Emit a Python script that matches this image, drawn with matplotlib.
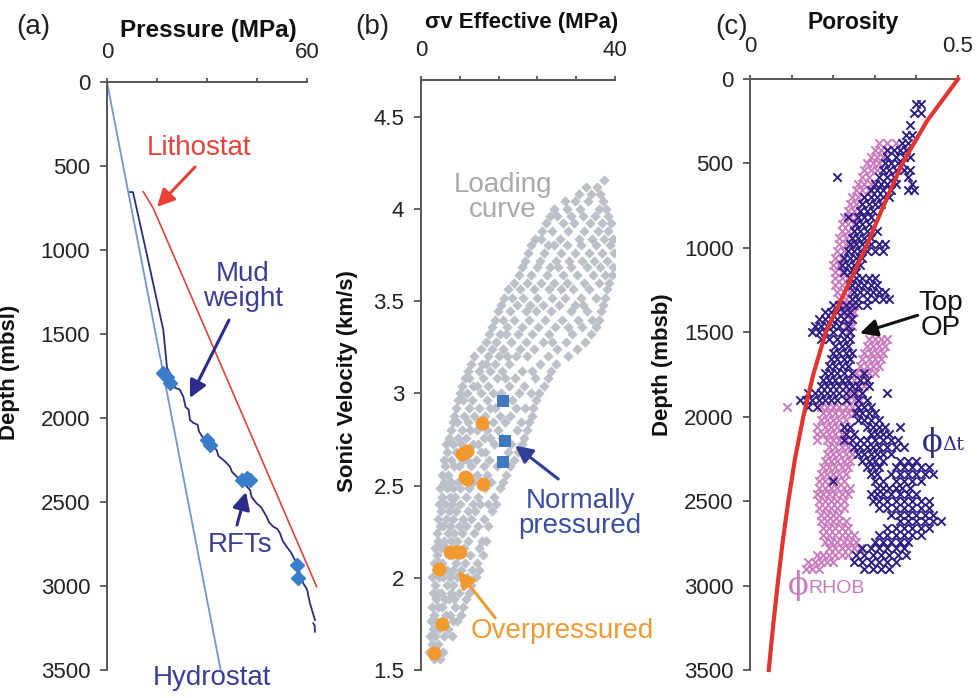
import matplotlib
matplotlib.use("Agg")
import matplotlib.pyplot as plt

plt.rcParams['font.family'] = ['Liberation Sans', 'DejaVu Sans']

# ---------------- Panel (a) data ----------------
hydro_p = [0.0, 34.1]
hydro_d = [0, 3500]
litho_p = [10.9, 13.9, 62.9]
litho_d = [653, 752, 3004]
mud_p = [6.9, 7.8, 12.0, 16.9, 18.0, 19.9, 20.4, 21.8, 22.9, 23.6, 24.5, 24.9, 26.0, 27.2, 27.6, 29.9,
         31.2, 32.9, 33.4, 34.9, 35.6, 36.9, 37.5, 38.9, 40.0, 40.9, 41.6, 42.9, 43.4, 44.9, 46.2,
         47.9, 48.6, 49.9, 51.1, 51.9, 52.7, 53.9, 55.2, 56.9, 57.8, 58.9, 60.0, 60.9, 62.4]
mud_d = [655, 655, 1030, 1476, 1700, 1774, 1820, 1830, 1873, 1935, 1950, 2012, 2030, 2040, 2080, 2150,
         2160, 2190, 2225, 2250, 2262, 2290, 2320, 2349, 2365, 2389, 2400, 2428, 2470, 2508, 2530,
         2587, 2620, 2647, 2660, 2686, 2730, 2766, 2800, 2865, 2920, 2984, 3020, 3103, 3202]
mud_tail_p = [61.9, 62.3, 62.4]
mud_tail_d = [3222, 3235, 3272]
rft_p = [16.9, 17.9, 18.9, 29.9, 30.9, 40.4, 41.9, 42.9, 56.9, 57.4]
rft_d = [1734, 1754, 1793, 2131, 2161, 2369, 2359, 2369, 2875, 2954]

# ---------------- Panel (b) data: rows of (velocity km/s, [sigma_v effective MPa ...]) ----------------
gray_rows = [
    (1.56, [2.6, 3.9]), (1.595, [1.6, 3.1, 4.5]), (1.64, [2.2, 3.5]), (1.685, [1.9, 2.9, 4.8, 6.3]),
    (1.72, [2.5, 3.7, 5.5]), (1.765, [2.0, 3.1, 4.4, 6.6, 7.4]), (1.80, [2.7, 5.1, 6.0, 8.3]),
    (1.84, [2.2, 3.6, 4.3, 7.1, 8.6]), (1.885, [3.0, 4.9, 5.8, 6.9, 9.3]), (1.92, [2.4, 3.5, 4.1, 6.2, 7.9, 9.9]),
    (1.96, [2.9, 5.3, 6.7, 8.8, 10.4]), (2.005, [2.3, 3.8, 4.6, 6.0, 7.5, 9.5, 11.3]),
    (2.04, [3.1, 5.4, 6.5, 8.3, 10.6, 12.0]), (2.08, [2.6, 3.7, 4.4, 7.2, 9.0, 11.5]),
    (2.125, [3.3, 5.8, 6.3, 7.9, 10.1, 12.8]), (2.16, [2.9, 4.2, 5.1, 6.9, 8.8, 11.9]),
    (2.20, [3.6, 4.8, 6.1, 7.5, 9.7, 12.5, 13.4]), (2.245, [3.2, 5.5, 6.8, 8.4, 10.9]),
    (2.28, [3.9, 4.6, 6.0, 7.8, 9.2, 11.8, 13.9]), (2.32, [3.5, 5.1, 6.7, 8.6, 10.3, 12.9]),
    (2.365, [4.1, 5.7, 7.3, 9.6, 11.1, 14.6]), (2.40, [3.7, 4.9, 6.4, 8.1, 10.7, 12.2, 13.8, 15.4]),
    (2.44, [4.4, 5.9, 7.0, 9.3, 11.8, 15.0]), (2.485, [4.0, 5.3, 6.6, 8.0, 9.9, 13.1, 16.2]),
    (2.52, [4.7, 6.2, 7.6, 10.8, 12.4, 14.5, 16.9]), (2.56, [4.3, 5.6, 8.7, 9.6, 11.6, 13.7, 17.6]),
    (2.605, [5.0, 6.8, 7.9, 10.3, 12.9, 15.6, 18.4]), (2.64, [4.7, 6.1, 8.6, 9.4, 11.3, 14.1, 16.8, 19.2]),
    (2.68, [5.4, 7.2, 9.9, 12.4, 13.2, 17.9, 20.1]), (2.725, [5.1, 6.5, 8.2, 10.7, 11.8, 15.0, 18.6, 20.9]),
    (2.76, [5.8, 7.7, 9.2, 12.9, 14.3, 16.7, 21.3]), (2.80, [6.2, 8.4, 10.2, 11.5, 13.6, 15.9, 19.7, 21.9]),
    (2.845, [6.5, 7.4, 9.6, 12.2, 14.8, 17.4, 20.6, 22.3]), (2.88, [6.9, 8.8, 11.0, 13.1, 16.2, 18.3, 22.8]),
    (2.92, [7.3, 9.9, 11.9, 14.2, 15.3, 19.6, 21.4, 23.1]), (2.965, [7.6, 8.6, 10.6, 13.6, 17.0, 18.8, 23.7]),
    (3.00, [8.1, 9.5, 12.3, 14.9, 16.4, 20.3, 22.6, 24.3]), (3.04, [8.4, 10.8, 11.6, 13.9, 18.1, 21.2, 25.3]),
    (3.085, [9.1, 10.0, 12.8, 15.6, 17.3, 19.4, 23.6, 26.1]), (3.12, [9.6, 11.9, 14.3, 16.6, 20.8, 22.9, 26.7]),
    (3.16, [10.4, 12.6, 13.5, 15.2, 18.2, 24.5, 27.9]), (3.205, [11.0, 13.9, 16.1, 17.7, 19.6, 21.9, 26.2, 30.4]),
    (3.24, [12.3, 14.6, 16.9, 20.5, 23.4, 28.1, 32.2]), (3.28, [13.5, 15.4, 18.6, 21.7, 25.1, 27.0, 29.9, 33.8]),
    (3.325, [14.1, 16.3, 17.5, 19.9, 22.8, 26.4, 31.2, 35.0]), (3.36, [14.7, 17.8, 20.9, 24.1, 27.7, 30.3, 33.1, 36.1]),
    (3.40, [15.3, 16.9, 19.2, 22.3, 25.6, 29.0, 32.4, 35.3, 36.8]),
    (3.445, [15.9, 18.4, 21.6, 23.8, 26.9, 30.9, 34.2, 37.1]),
    (3.48, [16.5, 19.7, 22.4, 25.2, 28.4, 31.7, 33.5, 37.5]),
    (3.52, [17.1, 18.8, 21.1, 24.0, 27.1, 29.6, 32.9, 36.0, 38.0]),
    (3.565, [17.9, 20.4, 23.3, 26.3, 28.9, 31.4, 34.7, 38.4]),
    (3.60, [19.1, 21.9, 24.8, 27.5, 30.2, 33.6, 36.6, 38.8]),
    (3.64, [20.2, 22.7, 25.9, 29.3, 32.1, 35.4, 37.9, 39.3]),
    (3.685, [20.8, 23.9, 26.6, 28.2, 31.0, 34.3, 36.9, 39.6]),
    (3.72, [21.5, 24.6, 27.8, 30.6, 33.2, 35.7, 38.3]), (3.76, [22.1, 25.4, 28.9, 31.8, 34.6, 37.4, 39.8]),
    (3.805, [22.6, 26.2, 27.4, 30.1, 33.0, 36.1, 38.9]), (3.84, [23.5, 24.8, 28.6, 32.6, 35.2, 37.8, 39.5]),
    (3.88, [24.9, 27.1, 30.4, 33.7, 36.4, 38.6]), (3.925, [25.8, 29.3, 31.6, 34.8, 37.3, 39.2]),
    (3.96, [26.6, 28.1, 30.9, 33.3, 35.9, 38.5]), (4.00, [27.4, 30.0, 32.7, 36.8, 38.1]),
    (4.045, [29.6, 31.8, 34.4, 37.5]), (4.08, [32.5, 35.1, 36.9]), (4.12, [34.0, 36.3]), (4.16, [37.8]),
]
over_sigma = [12.5, 8.4, 9.4, 9.1, 9.4, 12.8, 6.0, 7.4, 8.0, 3.7, 4.4, 2.7]
over_vel = [2.84, 2.67, 2.69, 2.545, 2.535, 2.51, 2.14, 2.14, 2.14, 2.05, 1.75, 1.59]
norm_sigma = [17.0, 17.3, 17.0]
norm_vel = [2.96, 2.74, 2.63]

# ---------------- Panel (c) data ----------------
trend_depth = [0, 250, 500, 750, 1000, 1250, 1500, 1750, 2000, 2250, 2500, 2750, 3000, 3250, 3500]
trend_por = [0.5, 0.425, 0.366, 0.321, 0.278, 0.230, 0.182, 0.152, 0.128, 0.108, 0.092, 0.078, 0.066, 0.055, 0.045]

dt_rows = [
    (150, [0.40, 0.41]), (200, [0.395, 0.41]), (270, [0.385]), (330, [0.375, 0.39]), (380, [0.365, 0.38]),
    (420, [0.33, 0.345, 0.36, 0.375]), (460, [0.33, 0.35, 0.37, 0.385]), (500, [0.325, 0.34, 0.355, 0.365]),
    (540, [0.32, 0.335, 0.35, 0.37, 0.385]), (580, [0.21, 0.31, 0.33, 0.345, 0.38]),
    (620, [0.30, 0.315, 0.33, 0.35, 0.39]), (660, [0.29, 0.305, 0.32, 0.34, 0.38, 0.395]),
    (700, [0.275, 0.29, 0.305, 0.32, 0.335]), (740, [0.27, 0.285, 0.30, 0.315]), (780, [0.265, 0.28, 0.295]),
    (820, [0.235, 0.26, 0.275, 0.29]), (860, [0.255, 0.27, 0.285]), (900, [0.25, 0.265, 0.28, 0.305]),
    (940, [0.245, 0.26, 0.275, 0.29]), (980, [0.24, 0.255, 0.27, 0.29, 0.31, 0.325]),
    (1020, [0.235, 0.25, 0.265, 0.28, 0.30, 0.32]), (1060, [0.225, 0.24, 0.255, 0.27]),
    (1100, [0.22, 0.235, 0.25, 0.265]), (1140, [0.225, 0.24, 0.255]), (1180, [0.24, 0.255, 0.27, 0.285, 0.30]),
    (1220, [0.245, 0.26, 0.275, 0.29, 0.305]), (1260, [0.25, 0.265, 0.28, 0.295, 0.31, 0.325]),
    (1300, [0.245, 0.26, 0.28, 0.30, 0.32, 0.335]), (1340, [0.20, 0.215, 0.23, 0.245, 0.26, 0.28]),
    (1380, [0.18, 0.195, 0.21, 0.225, 0.24]), (1420, [0.165, 0.18, 0.195, 0.21, 0.225, 0.245]),
    (1460, [0.155, 0.17, 0.185, 0.20, 0.215, 0.235]), (1500, [0.15, 0.165, 0.18, 0.20, 0.22, 0.24]),
    (1540, [0.17, 0.19, 0.21, 0.225, 0.24]), (1580, [0.205, 0.22, 0.235]), (1620, [0.20, 0.215, 0.23, 0.245]),
    (1660, [0.195, 0.21, 0.225, 0.24]), (1700, [0.19, 0.205, 0.22, 0.235]),
    (1740, [0.18, 0.195, 0.21, 0.225, 0.245, 0.275]), (1780, [0.175, 0.19, 0.205, 0.22, 0.235, 0.265, 0.28]),
    (1820, [0.17, 0.185, 0.20, 0.215, 0.23, 0.245, 0.26, 0.285]),
    (1860, [0.14, 0.155, 0.17, 0.185, 0.20, 0.215, 0.23, 0.25, 0.27, 0.33]),
    (1900, [0.12, 0.135, 0.15, 0.165, 0.18, 0.195, 0.21, 0.23, 0.26, 0.28]),
    (1940, [0.14, 0.16, 0.26, 0.275, 0.29]), (1980, [0.255, 0.27, 0.285, 0.30]),
    (2020, [0.26, 0.275, 0.29, 0.31]), (2060, [0.225, 0.24, 0.28, 0.295, 0.31, 0.325, 0.36]),
    (2100, [0.23, 0.25, 0.29, 0.305, 0.32, 0.335]), (2140, [0.225, 0.245, 0.265, 0.28, 0.30, 0.32, 0.34, 0.355]),
    (2180, [0.25, 0.265, 0.28, 0.295, 0.31, 0.33, 0.35, 0.37]), (2220, [0.26, 0.275, 0.29, 0.305, 0.32, 0.34]),
    (2260, [0.27, 0.285, 0.30, 0.32, 0.36, 0.38, 0.40]), (2300, [0.28, 0.295, 0.31, 0.35, 0.37, 0.39, 0.41, 0.43]),
    (2340, [0.29, 0.305, 0.34, 0.36, 0.38, 0.40, 0.42, 0.44]), (2380, [0.20, 0.30, 0.32, 0.35, 0.37, 0.39, 0.41]),
    (2420, [0.305, 0.32, 0.335, 0.35, 0.365, 0.385]), (2460, [0.29, 0.305, 0.32, 0.34, 0.36, 0.38, 0.40]),
    (2500, [0.295, 0.31, 0.33, 0.35, 0.37, 0.39, 0.41, 0.43]), (2540, [0.31, 0.33, 0.35, 0.37, 0.39, 0.41, 0.43]),
    (2580, [0.34, 0.36, 0.38, 0.40, 0.42, 0.44]), (2620, [0.36, 0.38, 0.40, 0.42, 0.44, 0.46]),
    (2660, [0.33, 0.35, 0.37, 0.39, 0.41, 0.43]), (2700, [0.31, 0.33, 0.35, 0.37, 0.39, 0.41]),
    (2740, [0.30, 0.32, 0.34, 0.36, 0.38]), (2780, [0.27, 0.29, 0.31, 0.33, 0.35, 0.37]),
    (2820, [0.255, 0.275, 0.295, 0.315, 0.335, 0.355, 0.375]), (2860, [0.25, 0.27, 0.29, 0.31, 0.33, 0.35]),
    (2900, [0.275, 0.295, 0.315, 0.335]),
]
rhob_rows = [
    (380, [0.31, 0.33, 0.35]), (420, [0.30, 0.315, 0.33]), (460, [0.29, 0.305, 0.32]), (500, [0.28, 0.295, 0.31]),
    (540, [0.275, 0.29, 0.305]), (580, [0.27, 0.285]), (620, [0.26, 0.275, 0.29]), (660, [0.255, 0.27, 0.285]),
    (700, [0.245, 0.26, 0.275]), (740, [0.24, 0.255, 0.27]), (780, [0.235, 0.25, 0.265]), (820, [0.225, 0.24, 0.255]),
    (860, [0.22, 0.235, 0.25]), (900, [0.22, 0.235, 0.25]), (940, [0.215, 0.23, 0.245]), (980, [0.215, 0.23, 0.245]),
    (1020, [0.21, 0.225]), (1060, [0.205, 0.22]), (1100, [0.20, 0.215]), (1140, [0.205, 0.22]),
    (1180, [0.205, 0.22, 0.235]), (1220, [0.205, 0.22, 0.235]), (1260, [0.21, 0.225, 0.24]), (1300, [0.215, 0.23, 0.245]),
    (1340, [0.22, 0.235, 0.25]), (1380, [0.22, 0.235, 0.25]), (1420, [0.225, 0.24]), (1460, [0.23, 0.245]), (1500, [0.235]),
    (1540, [0.285, 0.30, 0.315, 0.33]), (1580, [0.28, 0.295, 0.31, 0.325]), (1620, [0.275, 0.29, 0.305, 0.32]),
    (1660, [0.27, 0.285, 0.30, 0.315]), (1700, [0.265, 0.28, 0.295, 0.31]), (1740, [0.255, 0.27, 0.285, 0.30]),
    (1780, [0.25, 0.265, 0.28]), (1820, [0.245, 0.26, 0.275]), (1860, [0.24, 0.255, 0.27]), (1900, [0.235, 0.25, 0.265]),
    (1940, [0.09, 0.17, 0.185, 0.20, 0.215, 0.23, 0.245]), (1980, [0.175, 0.19, 0.205, 0.22, 0.235, 0.25]),
    (2020, [0.17, 0.185, 0.20, 0.215, 0.23]), (2060, [0.16, 0.18, 0.195, 0.21, 0.225]),
    (2100, [0.16, 0.175, 0.19, 0.205, 0.22]), (2140, [0.16, 0.185, 0.20, 0.215, 0.23]),
    (2180, [0.19, 0.205, 0.22, 0.235, 0.25]), (2220, [0.185, 0.20, 0.215, 0.23, 0.245]),
    (2260, [0.18, 0.195, 0.21, 0.225, 0.24]), (2300, [0.175, 0.19, 0.205, 0.22, 0.235]),
    (2340, [0.17, 0.185, 0.20, 0.215, 0.23]), (2380, [0.165, 0.18, 0.195, 0.21, 0.225]),
    (2420, [0.165, 0.18, 0.195, 0.21, 0.225, 0.24]), (2460, [0.16, 0.175, 0.19, 0.205, 0.22, 0.235]),
    (2500, [0.165, 0.18, 0.195, 0.21, 0.225]), (2540, [0.165, 0.18, 0.195, 0.21, 0.225]),
    (2580, [0.17, 0.185, 0.20, 0.215]), (2620, [0.17, 0.185, 0.20, 0.215, 0.23]),
    (2660, [0.175, 0.19, 0.205, 0.22, 0.235]), (2700, [0.175, 0.19, 0.205, 0.22, 0.235, 0.25]),
    (2740, [0.18, 0.195, 0.21, 0.225, 0.24, 0.255]), (2780, [0.19, 0.205, 0.22, 0.235, 0.25, 0.265]),
    (2820, [0.16, 0.175, 0.19, 0.205, 0.22, 0.235]), (2860, [0.14, 0.155, 0.17, 0.185, 0.20]),
    (2900, [0.135, 0.15, 0.165]),
]

# ---------------- styling ----------------
SPINE = '#555555'
TXT = '#222222'
NAVY_TXT = '#3b3d96'


def style_axes(ax, xticks, xlabels, yticks, ylabels, xpad):
    for s in ('right', 'bottom'):
        ax.spines[s].set_visible(False)
    for s in ('left', 'top'):
        ax.spines[s].set_color(SPINE)
        ax.spines[s].set_linewidth(1.4)
    ax.xaxis.tick_top()
    ax.set_xticks(xticks)
    ax.set_xticklabels(xlabels)
    ax.set_yticks(yticks)
    ax.set_yticklabels(ylabels)
    ax.tick_params(axis='x', direction='out', length=3, width=1.3, color=SPINE, pad=xpad,
                   labelsize=16, labelcolor=TXT)
    ax.tick_params(axis='y', direction='out', length=5, width=1.3, color=SPINE, pad=7,
                   labelsize=16, labelcolor=TXT)


fig = plt.figure(figsize=(9.77, 6.98), dpi=100)

# ---------------- (a) ----------------
axa = fig.add_axes([0.1095, 0.0401, 0.2047, 0.8424])
axa.set_xlim(0, 60)
axa.set_ylim(3500, 0)
style_axes(axa, [0, 15, 30, 45, 60], ['0', '', '', '', '60'],
           [0, 500, 1000, 1500, 2000, 2500, 3000, 3500],
           ['0', '500', '1000', '1500', '2000', '2500', '3000', '3500'], 11)
axa.plot(hydro_p, hydro_d, color='#7096d1', lw=1.3, clip_on=False)
axa.plot(litho_p, litho_d, color='#e8413a', lw=1.2, clip_on=False)
axa.plot(mud_p, mud_d, color='#2c2c7c', lw=1.3, clip_on=False)
axa.plot(mud_tail_p, mud_tail_d, color='#2c2c7c', lw=1.3, clip_on=False)
axa.plot(rft_p, rft_d, ls='none', marker='D', ms=7.5, color='#3a7dc9', clip_on=False, zorder=4)
axa.text(0.505, 1.088, 'Pressure (MPa)', transform=axa.transAxes, ha='center', va='center',
         fontsize=17.5, fontweight='bold', color='#111111')
axa.set_ylabel('Depth (mbsl)', fontsize=16, fontweight='bold', color='#111111')
axa.yaxis.set_label_coords(-0.435, 0.507)

arrow_kw = dict(arrowstyle='-|>', lw=2.2, mutation_scale=26, shrinkA=0, shrinkB=0)
axa.text(27.6, 393, 'Lithostat', color='#e8413a', fontsize=20, ha='center', va='center')
axa.annotate('', xy=(15.0, 744), xytext=(26.4, 506), arrowprops=dict(color='#e8413a', **arrow_kw))
axa.text(40.8, 1220, 'Mud\nweight', color=NAVY_TXT, fontsize=20, ha='center', va='center', linespacing=0.95)
axa.annotate('', xy=(24.9, 1881), xytext=(36.6, 1417), arrowprops=dict(color='#2c2c8c', **arrow_kw))
axa.text(39.9, 2756, 'RFTs', color=NAVY_TXT, fontsize=20, ha='center', va='center')
axa.annotate('', xy=(41.7, 2440), xytext=(39.0, 2637), arrowprops=dict(color='#2c2c8c', **arrow_kw))
axa.text(31.5, 3548, 'Hydrostat', color=NAVY_TXT, fontsize=20, ha='center', va='center', clip_on=False)

# ---------------- (b) ----------------
axb = fig.add_axes([0.4309, 0.0401, 0.1986, 0.8453])
axb.set_xlim(0, 40)
axb.set_ylim(1.5, 4.7)
style_axes(axb, [0, 8, 16, 24, 32, 40], ['0', '', '', '', '', '40'],
           [1.5, 2.0, 2.5, 3.0, 3.5, 4.0, 4.5], ['1.5', '2', '2.5', '3', '3.5', '4', '4.5'], 11)
gs = [s for v, row in gray_rows for s in row]
gv = [v for v, row in gray_rows for _ in row]
axb.scatter(gs, gv, marker='D', s=28, color='#bcc0c8', linewidths=0, zorder=2)
axb.scatter(over_sigma, over_vel, marker='o', s=100, color='#f29a30', linewidths=0, zorder=3)
axb.scatter(norm_sigma, norm_vel, marker='s', s=80, color='#3e79c1', linewidths=0, zorder=3)
axb.text(0.52, 1.098, 'σv Effective (MPa)', transform=axb.transAxes, ha='center', va='center',
         fontsize=16, fontweight='bold', color='#111111')
axb.set_ylabel('Sonic Velocity (km/s)', fontsize=16, fontweight='bold', color='#111111')
axb.yaxis.set_label_coords(-0.325, 0.49)
axb.text(16.9, 4.065, 'Loading\ncurve', color='#a9a9a9', fontsize=20, ha='center', va='center', linespacing=0.95)
axb.text(32.8, 2.348, 'Normally\npressured', color='#3a4fa0', fontsize=20, ha='center', va='center',
         linespacing=0.95, clip_on=False)
axb.annotate('', xy=(19.4, 2.717), xytext=(28.3, 2.536), arrowprops=dict(color='#2e3f94', **arrow_kw))
axb.text(29.1, 1.712, 'Overpressured', color='#f29a30', fontsize=20, ha='center', va='center', clip_on=False)
axb.annotate('', xy=(7.6, 2.038), xytext=(15.3, 1.783), arrowprops=dict(color='#f29a30', **arrow_kw))

# ---------------- (c) ----------------
axc = fig.add_axes([0.7677, 0.0401, 0.2129, 0.8467])
axc.set_xlim(0, 0.5)
axc.set_ylim(3500, 0)
style_axes(axc, [0, 0.1, 0.2, 0.3, 0.4, 0.5], ['0', '', '', '', '', '0.5'],
           [0, 500, 1000, 1500, 2000, 2500, 3000, 3500],
           ['0', '500', '1000', '1500', '2000', '2500', '3000', '3500'], 13)
rd = [d for d, vals in rhob_rows for _ in vals]
rp = [v for d, vals in rhob_rows for v in vals]
dd = [d for d, vals in dt_rows for _ in vals]
dp = [v for d, vals in dt_rows for v in vals]
axc.scatter(rp, rd, marker='x', s=36, color='#cc7abf', linewidths=1.4, zorder=2)
axc.scatter(dp, dd, marker='x', s=36, color='#2d1d85', linewidths=1.4, zorder=3)
axc.plot(trend_por, trend_depth, color='#e3342f', lw=3, zorder=4, clip_on=False)
axc.text(0.495, 1.095, 'Porosity', transform=axc.transAxes, ha='center', va='center',
         fontsize=16.5, fontweight='bold', color='#111111')
axc.set_ylabel('Depth (mbsb)', fontsize=16, fontweight='bold', color='#111111')
axc.yaxis.set_label_coords(-0.37, 0.516)
axc.text(0.459, 1403, 'Top\nOP', color='#111111', fontsize=20, ha='center', va='center', linespacing=0.95,
         clip_on=False)
axc.annotate('', xy=(0.264, 1506), xytext=(0.403, 1399), arrowprops=dict(color='#111111', **arrow_kw))

phi1 = axc.text(0.413, 2150, '\u03d5', family='DejaVu Serif', color='#2d2d8a', fontsize=22,
                ha='left', va='center')
axc.annotate('\u0394t', xy=(1.0, 0.12), xycoords=phi1, family='DejaVu Serif', color='#2d2d8a',
             fontsize=14, ha='left', va='bottom')
phi2 = axc.text(0.091, 2997, '\u03d5', family='DejaVu Serif', color='#cc7abf', fontsize=22,
                ha='left', va='center')
axc.annotate('RHOB', xy=(1.0, 0.12), xycoords=phi2, color='#cc7abf', fontsize=14, ha='left', va='bottom')

# panel labels
fig.text(0.0338, 0.9613, '(a)', fontsize=20, ha='center', va='center', color=TXT)
fig.text(0.381, 0.9613, '(b)', fontsize=20, ha='center', va='center', color=TXT)
fig.text(0.749, 0.9613, '(c)', fontsize=20, ha='center', va='center', color=TXT)

fig.savefig('out.png', dpi=100)
